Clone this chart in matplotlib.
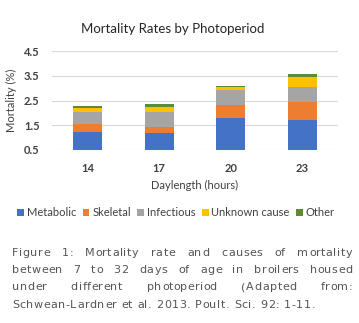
import matplotlib
matplotlib.use("Agg")
import matplotlib.pyplot as plt
from matplotlib.patches import Patch
import numpy as np

# Mortality (%) by cause for each photoperiod
daylength = ["14", "17", "20", "23"]
metabolic = [1.21, 1.17, 1.81, 1.71]
skeletal = [0.35, 0.26, 0.50, 0.72]
infectious = [0.49, 0.62, 0.61, 0.63]
unknown = [0.15, 0.20, 0.11, 0.40]
other = [0.08, 0.10, 0.07, 0.12]

series_names = ["Metabolic", "Skeletal", "Infectious", "Unknown cause", "Other"]
series_values = [metabolic, skeletal, infectious, unknown, other]
colors = ["#4472C4", "#ED7D31", "#A5A5A5", "#FFC000", "#5E8A32"]

y_ticks = [0.5, 1.5, 2.5, 3.5, 4.5]

caption_lines = [
    "Figure 1: Mortality rate and causes of mortality",
    "between 7 to 32 days of age in broilers housed",
    "under different photoperiod  (Adapted from:",
    "Schwean-Lardner et al. 2013. Poult. Sci. 92: 1-11.",
]

W, H, DPI = 359, 323, 100
fig = plt.figure(figsize=(W / DPI, H / DPI), dpi=DPI)
fig.patch.set_facecolor("white")

ax = fig.add_axes([52 / W, 1 - 150 / H, (338 - 52) / W, (150 - 51) / H])
x = np.arange(len(daylength))
bottom = np.zeros(len(daylength))
for name, vals, c in zip(series_names, series_values, colors):
    ax.bar(x, vals, bottom=bottom, width=0.40, color=c, zorder=3, label=name)
    bottom += np.array(vals)

ax.set_ylim(0.5, 4.5)
ax.set_xlim(-0.5, 3.5)
ax.set_yticks(y_ticks)
ax.set_yticklabels([f"{v:.1f}" for v in y_ticks])
ax.set_xticks(x)
ax.set_xticklabels(daylength)
ax.grid(axis="y", color="#D9D9D9", linewidth=0.8, zorder=0)
for s in ax.spines.values():
    s.set_visible(False)
ax.tick_params(axis="both", length=0, colors="#404040", labelsize=8)
ax.tick_params(axis="y", pad=9)
ax.tick_params(axis="x", pad=9)
for lbl in ax.get_xticklabels() + ax.get_yticklabels():
    lbl.set_fontfamily("Lato")
    lbl.set_fontweight("bold")

ax.set_xlabel("Daylength (hours)", fontsize=8, family="Lato", color="#404040", labelpad=5)
ax.set_ylabel("Mortality (%)", fontsize=8, family="Lato", color="#404040", labelpad=5)

fig.text(173 / W, 1 - 29 / H, "Mortality Rates by Photoperiod", ha="center", va="center",
         fontsize=9.5, family="Lato", color="#262626")

handles = [Patch(facecolor=c, edgecolor="none") for c in colors]
fig.legend(handles, series_names, loc="center", bbox_to_anchor=(176 / W, 1 - 213 / H),
           ncol=5, frameon=False, handlelength=0.6, handleheight=0.6, handletextpad=0.25,
           columnspacing=0.6, prop={"family": "Lato", "size": 8}, labelcolor="#404040",
           borderaxespad=0, borderpad=0)

# Justified, letter-spaced caption below the chart
cap_kw = dict(fontsize=8.0, family="DejaVu Sans", color="#555555", va="center", ha="left")
renderer = fig.canvas.get_renderer()
tracking = 0.6
x0, x1 = 12, 352
ys = [253, 270, 287, 305]

char_w = {}
def advance(ch):
    if ch not in char_w:
        t = fig.text(0, 0, "x" + ch + "x", **cap_kw)
        t2 = fig.text(0, 0, "xx", **cap_kw)
        char_w[ch] = t.get_window_extent(renderer).width - t2.get_window_extent(renderer).width
        t.remove()
        t2.remove()
    return char_w[ch]

def word_width(w):
    return sum(advance(c) for c in w) + tracking * (len(w) - 1)

space_w = advance(" ") + 2 * tracking
for i, (line, yp) in enumerate(zip(caption_lines, ys)):
    words = line.split()
    widths = [word_width(w) for w in words]
    if i < len(caption_lines) - 1:
        gap = ((x1 - x0) - sum(widths)) / (len(words) - 1)
    else:
        gap = space_w
    xp = x0
    for w, ww in zip(words, widths):
        cx = xp
        for ch in w:
            fig.text(cx / W, 1 - yp / H, ch, **cap_kw)
            cx += advance(ch) + tracking
        xp += ww + gap

fig.savefig("out.png", dpi=DPI, facecolor="white")
